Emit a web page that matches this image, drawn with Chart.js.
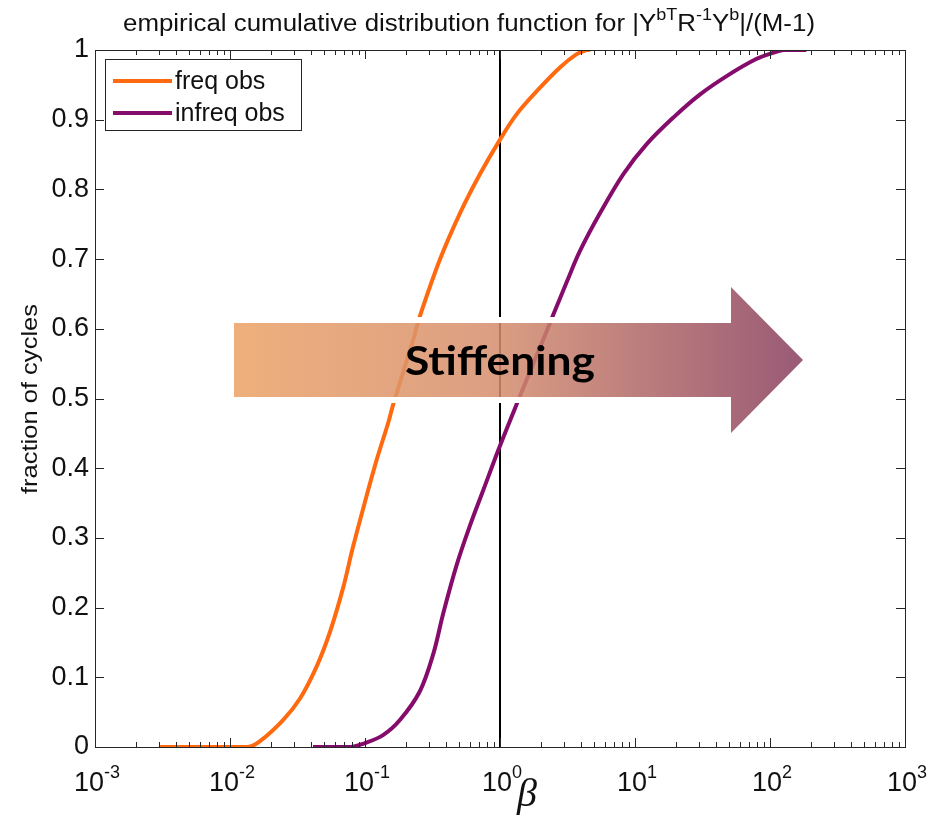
<!DOCTYPE html>
<html>
<head>
<meta charset="utf-8">
<script src="https://cdn.jsdelivr.net/npm/chart.js@4/dist/chart.umd.min.js"></script>
<style>
  html, body { margin: 0; padding: 0; background: #fff; }
  #wrap { width: 929px; height: 816px; }
</style>
</head>
<body>
<div id="wrap"><canvas id="cdf"></canvas></div>
<script>
// values (x = beta, y = fraction of cycles)
const freqX = [0.0030, 0.0135, 0.0166, 0.0248, 0.0331, 0.0437, 0.055, 0.069, 0.081, 0.100, 0.122, 0.149, 0.162,
               0.228, 0.255, 0.36, 0.506, 0.711, 0.99, 1.33, 1.98, 2.78, 3.70, 4.39, 4.65];
const freqY = [0, 0, 0.008, 0.039, 0.070, 0.115, 0.165, 0.229, 0.285, 0.352, 0.412, 0.466, 0.492,
               0.585, 0.618, 0.700, 0.766, 0.822, 0.870, 0.908, 0.946, 0.975, 0.994, 1.0, 1.0];

const infreqX = [0.0412, 0.078, 0.098, 0.136, 0.182, 0.255, 0.321, 0.38, 0.479, 0.60, 0.75, 0.99, 1.33,
                 2.22, 2.48, 3.12, 3.92, 5.51, 8.2, 12.2, 19.2, 30.2, 50, 79, 105, 126, 186];
const infreqY = [0, 0, 0.005, 0.017, 0.039, 0.080, 0.134, 0.192, 0.262, 0.318, 0.368, 0.430, 0.492,
                 0.597, 0.620, 0.667, 0.712, 0.766, 0.822, 0.865, 0.903, 0.936, 0.965, 0.987, 0.996, 1.0, 1.0];

const refX = [1, 1];
const refY = [0, 1];

const seriesNames = ["freq obs", "infreq obs"];
const yTicks = [0, 0.1, 0.2, 0.3, 0.4, 0.5, 0.6, 0.7, 0.8, 0.9, 1];
const xDecades = [-3, -2, -1, 0, 1, 2, 3];

const toPoints = (xs, ys) => xs.map((x, i) => ({ x: x, y: ys[i] }));

const axisColor = "#262626";

function drawRich(ctx, runs, x, y, size, targetW) {
  // runs: [text, isSup]
  const supSize = Math.round(size * 0.68);
  let w = 0;
  runs.forEach(r => {
    ctx.font = (r[1] ? supSize : size) + "px 'Liberation Sans', Arial, sans-serif";
    w += ctx.measureText(r[0]).width;
  });
  const sx = targetW ? targetW / w : 1;
  ctx.save();
  ctx.translate(x - (w * sx) / 2, y);
  ctx.scale(sx, 1);
  let cx = 0;
  ctx.textAlign = "left";
  ctx.textBaseline = "alphabetic";
  runs.forEach(r => {
    ctx.font = (r[1] ? supSize : size) + "px 'Liberation Sans', Arial, sans-serif";
    ctx.fillText(r[0], cx, r[1] ? -size * 0.5 : 0);
    cx += ctx.measureText(r[0]).width;
  });
  ctx.restore();
}

const decorations = {
  id: "decorations",
  afterDraw(chart) {
    const ctx = chart.ctx;
    const a = chart.chartArea;
    const xs = chart.scales.x, ys = chart.scales.y;

    ctx.save();
    ctx.strokeStyle = axisColor;
    ctx.lineWidth = 1;

    // inner tick marks, MATLAB style
    ctx.beginPath();
    for (let d = -3; d <= 2; d++) {
      for (let k = 1; k <= 9; k++) {
        const px = Math.round(xs.getPixelForValue(k * Math.pow(10, d))) + 0.5;
        const len = k === 1 ? 9 : 5;
        ctx.moveTo(px, a.bottom); ctx.lineTo(px, a.bottom - len);
        ctx.moveTo(px, a.top); ctx.lineTo(px, a.top + len);
      }
    }
    yTicks.forEach(v => {
      const py = Math.round(ys.getPixelForValue(v)) + 0.5;
      ctx.moveTo(a.left, py); ctx.lineTo(a.left + 9, py);
      ctx.moveTo(a.right, py); ctx.lineTo(a.right - 9, py);
    });
    ctx.stroke();
    ctx.strokeRect(Math.round(a.left) + 0.5, Math.round(a.top) + 0.5,
                   Math.round(a.right - a.left), Math.round(a.bottom - a.top));

    // x tick labels 10^n
    ctx.fillStyle = "#111";
    xDecades.forEach(n => {
      const px = xs.getPixelForValue(Math.pow(10, n));
      drawRich(ctx, [["10", false], [String(n), true]], px + 2, 791, 27);
    });

    // title
    drawRich(ctx, [
      ["empirical cumulative distribution function for |Y", false], ["bT", true],
      ["R", false], ["-1", true], ["Y", false], ["b", true], ["|/(M-1)", false]
    ], 469, 31, 23, 692);

    // y label
    ctx.save();
    ctx.translate(31, 399);
    ctx.rotate(-Math.PI / 2);
    ctx.font = "22px 'Liberation Sans', Arial, sans-serif";
    const lw = ctx.measureText("fraction of cycles").width;
    ctx.scale(190 / lw, 1);
    ctx.textAlign = "center";
    ctx.textBaseline = "middle";
    ctx.fillText("fraction of cycles", 0, 0);
    ctx.restore();

    // x label
    ctx.font = "italic 40px 'Liberation Serif', 'DejaVu Serif', serif";
    ctx.textAlign = "center";
    ctx.textBaseline = "alphabetic";
    ctx.fillText("\u03B2", 527, 806);

    // legend
    ctx.fillStyle = "#fff";
    ctx.fillRect(105, 59, 196, 71);
    ctx.strokeStyle = axisColor;
    ctx.strokeRect(105.5, 59.5, 196, 71);
    chart.data.datasets.slice(0, 2).forEach((ds, i) => {
      const ly = 81 + i * 32;
      ctx.strokeStyle = ds.borderColor;
      ctx.lineWidth = 4;
      ctx.beginPath();
      ctx.moveTo(113, ly); ctx.lineTo(172, ly);
      ctx.stroke();
      ctx.fillStyle = "#111";
      ctx.font = "25px 'Liberation Sans', Arial, sans-serif";
      ctx.textAlign = "left";
      ctx.textBaseline = "middle";
      ctx.fillText(ds.label, 175, ly + 1);
    });

    // "Stiffening" arrow overlay
    const pts = [[234, 323], [731, 323], [731, 287], [803, 360], [731, 433], [731, 397], [234, 397]];
    const arrowPath = () => {
      ctx.beginPath();
      pts.forEach((p, i) => i ? ctx.lineTo(p[0], p[1]) : ctx.moveTo(p[0], p[1]));
      ctx.closePath();
    };
    ctx.save();
    ctx.beginPath();
    ctx.rect(0, 0, chart.width, chart.height);
    pts.forEach((p, i) => i ? ctx.lineTo(p[0], p[1]) : ctx.moveTo(p[0], p[1]));
    ctx.closePath();
    ctx.clip("evenodd");
    arrowPath();
    ctx.strokeStyle = "#fff";
    ctx.lineWidth = 12;
    ctx.lineJoin = "miter";
    ctx.stroke();
    ctx.restore();

    const g = ctx.createLinearGradient(234, 0, 803, 0);
    g.addColorStop(0, "#eba266");
    g.addColorStop(0.45, "#d68f6e");
    g.addColorStop(1, "#883f5f");
    ctx.globalAlpha = 0.86;
    ctx.fillStyle = g;
    arrowPath();
    ctx.fill();
    ctx.globalAlpha = 1;

    ctx.font = "bold 40px Lato, 'Open Sans', sans-serif";
    const tw = ctx.measureText("Stiffening").width;
    ctx.save();
    ctx.translate(500, 362);
    ctx.scale(190 / tw, 1);
    ctx.fillStyle = "#000";
    ctx.textAlign = "center";
    ctx.textBaseline = "middle";
    ctx.fillText("Stiffening", 0, 0);
    ctx.restore();

    ctx.restore();
  }
};

new Chart(document.getElementById("cdf"), {
  type: "line",
  data: {
    datasets: [
      { label: seriesNames[0], data: toPoints(freqX, freqY), borderColor: "#ff6a10",
        borderWidth: 4, pointRadius: 0, tension: 0.35 },
      { label: seriesNames[1], data: toPoints(infreqX, infreqY), borderColor: "#860c6c",
        borderWidth: 4, pointRadius: 0, tension: 0.35 },
      { label: "beta = 1", data: toPoints(refX, refY), borderColor: "#000",
        borderWidth: 2, pointRadius: 0 }
    ]
  },
  options: {
    responsive: true,
    maintainAspectRatio: false,
    animation: false,
    layout: { padding: { top: 50, right: 24, left: 0, bottom: 0 } },
    plugins: { legend: { display: false }, tooltip: { enabled: false } },
    elements: { line: { capBezierPoints: true, borderJoinStyle: "round" } },
    scales: {
      x: {
        type: "logarithmic", min: 0.001, max: 1000,
        grid: { display: false }, border: { display: false },
        ticks: { display: false },
        afterFit: s => { s.height = 69; }
      },
      y: {
        min: 0, max: 1,
        grid: { display: false, drawTicks: false }, border: { display: false },
        ticks: {
          stepSize: 0.1, padding: 6, color: "#111",
          font: { family: "'Liberation Sans', Arial, sans-serif", size: 27 },
          callback: v => (v === 0 || v === 1) ? String(v) : v.toFixed(1)
        },
        afterFit: s => { s.width = 95; }
      }
    }
  },
  plugins: [decorations]
});
</script>
</body>
</html>
